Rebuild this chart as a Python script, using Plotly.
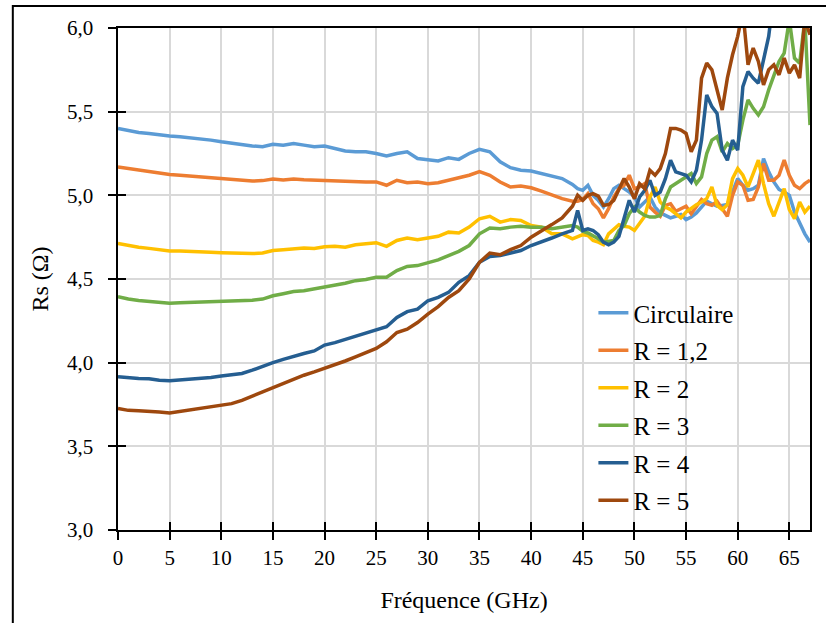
import plotly.graph_objects as go

freq = list(range(0, 45)) + [44.5 + 0.5 * i for i in range(46)]

circulaire = [5.40, 5.385, 5.375, 5.37, 5.36, 5.355, 5.35, 5.345, 5.34, 5.33,
              5.32, 5.31, 5.305, 5.295, 5.29, 5.305, 5.30, 5.31, 5.30, 5.29,
              5.295, 5.28, 5.265, 5.26, 5.26, 5.25, 5.235, 5.25, 5.26, 5.22,
              5.215, 5.205, 5.225, 5.215, 5.25, 5.275, 5.26, 5.20, 5.165, 5.15,
              5.145, 5.13, 5.12, 5.10, 5.065,
              5.04, 5.03, 5.06, 5.00, 4.97, 4.93, 4.98, 5.04, 5.06, 5.04,
              5.02, 4.99, 4.93, 4.96, 4.99, 4.93, 4.895, 4.88, 4.865, 4.875,
              4.885, 4.855, 4.87, 4.895, 4.93, 4.965, 4.95, 4.935, 4.94, 4.945,
              5.02, 5.10, 5.06, 5.03, 5.04, 5.06, 5.22, 5.14, 5.08, 5.035,
              5.02, 5.00, 4.90, 4.83, 4.77, 4.72]

r_1_2 = [5.17, 5.16, 5.15, 5.145, 5.13, 5.125, 5.12, 5.115, 5.11, 5.105,
         5.10, 5.095, 5.09, 5.085, 5.088, 5.097, 5.092, 5.098, 5.093, 5.09,
         5.09, 5.085, 5.083, 5.078, 5.08, 5.08, 5.06, 5.09, 5.075, 5.08,
         5.07, 5.075, 5.09, 5.10, 5.12, 5.142, 5.12, 5.08, 5.05, 5.055,
         5.045, 5.025, 5.00, 4.98, 4.965,
         4.965, 4.975, 5.01, 4.95, 4.92, 4.865, 4.92, 4.99, 5.04, 5.06,
         5.12, 5.04, 5.05, 5.07, 4.93, 4.90, 4.875, 4.94, 4.95, 4.905,
         4.92, 4.935, 4.89, 4.93, 4.975, 4.95, 4.94, 4.964, 4.92, 4.875,
         5.00, 5.08, 5.06, 4.97, 4.975, 5.05, 5.19, 5.09, 5.09, 5.12,
         5.21, 5.12, 5.06, 5.04, 5.07, 5.09]

r_2 = [4.713, 4.70, 4.69, 4.683, 4.675, 4.667, 4.668, 4.667, 4.665, 4.66,
       4.657, 4.655, 4.65, 4.652, 4.655, 4.67, 4.675, 4.682, 4.685, 4.683,
       4.693, 4.695, 4.69, 4.705, 4.71, 4.717, 4.695, 4.73, 4.745, 4.735,
       4.745, 4.755, 4.78, 4.775, 4.81, 4.86, 4.875, 4.84, 4.855, 4.85,
       4.82, 4.81, 4.77, 4.77, 4.74,
       4.75, 4.765, 4.76, 4.73, 4.72, 4.705, 4.77, 4.80, 4.825, 4.815,
       4.81, 4.79, 4.83, 4.875, 4.99, 5.05, 4.96, 4.93, 4.915, 4.89,
       4.865, 4.90, 4.925, 4.944, 4.96, 4.98, 5.05, 4.94, 4.915, 4.944,
       5.10, 5.16, 5.12, 5.05, 5.13, 5.21, 5.07, 4.95, 4.875, 4.96,
       5.04, 4.915, 4.86, 4.96, 4.90, 4.935]

r_3 = [4.394, 4.38, 4.372, 4.367, 4.36, 4.355, 4.358, 4.36, 4.358, 4.362,
       4.365, 4.368, 4.37, 4.373, 4.38, 4.40, 4.412, 4.425, 4.43, 4.44,
       4.455, 4.465, 4.475, 4.49, 4.497, 4.51, 4.51, 4.55, 4.575, 4.58,
       4.595, 4.614, 4.64, 4.665, 4.70, 4.77, 4.805, 4.80, 4.81, 4.815,
       4.81, 4.81, 4.80, 4.81, 4.82,
       4.81, 4.785, 4.775, 4.76, 4.74, 4.72, 4.725, 4.73, 4.79, 4.82,
       4.89, 4.93, 4.90, 4.88, 4.87, 4.87, 4.88, 4.98, 5.05, 5.07,
       5.09, 5.11, 5.13, 5.07, 5.11, 5.25, 5.33, 5.35, 5.26, 5.31,
       5.28, 5.30, 5.45, 5.57, 5.52, 5.48, 5.53, 5.63, 5.72, 5.80,
       5.85, 6.05, 5.82, 5.79, 6.05, 5.42]

r_4 = [3.916, 3.91, 3.906, 3.904, 3.895, 3.892, 3.896, 3.90, 3.905, 3.912,
       3.92, 3.925, 3.935, 3.955, 3.98, 4.00, 4.02, 4.04, 4.055, 4.07,
       4.105, 4.12, 4.14, 4.16, 4.175, 4.195, 4.215, 4.27, 4.305, 4.32,
       4.37, 4.39, 4.42, 4.48, 4.52, 4.60, 4.635, 4.64, 4.655, 4.67,
       4.70, 4.72, 4.745, 4.77, 4.79,
       4.91, 4.79, 4.80, 4.79, 4.765, 4.72, 4.705, 4.72, 4.755, 4.86,
       4.97, 4.90, 4.99, 5.03, 5.09, 5.00, 5.02, 5.10, 5.21, 5.14,
       5.13, 5.12, 5.08, 5.15, 5.33, 5.60, 5.53, 5.49, 5.27, 5.21,
       5.33, 5.27, 5.65, 5.74, 5.70, 5.67, 5.81, 5.95, 6.2, 6.3,
       6.3, 6.3, 6.3, 6.3, 6.3, 6.3]

r_5 = [3.727, 3.715, 3.712, 3.711, 3.705, 3.70, 3.71, 3.715, 3.725, 3.735,
       3.745, 3.755, 3.775, 3.80, 3.825, 3.85, 3.875, 3.905, 3.925, 3.945,
       3.965, 3.985, 4.01, 4.035, 4.06, 4.085, 4.125, 4.18, 4.20, 4.24,
       4.29, 4.335, 4.39, 4.43, 4.50, 4.60, 4.655, 4.645, 4.675, 4.70,
       4.75, 4.785, 4.825, 4.865, 4.935,
       5.00, 4.97, 5.00, 5.01, 4.995, 4.94, 4.945, 4.97, 5.035, 5.10,
       5.05, 4.98, 5.07, 5.04, 5.15, 5.12, 5.16, 5.25, 5.40, 5.40,
       5.39, 5.37, 5.26, 5.33, 5.70, 5.79, 5.75, 5.62, 5.51, 5.70,
       5.84, 5.95, 6.1, 5.78, 5.88, 5.80, 5.66, 5.75, 5.78, 5.72,
       5.82, 5.73, 5.78, 5.70, 6.05, 5.96]

names = ["Circulaire", "R = 1,2", "R = 2", "R = 3", "R = 4", "R = 5"]
colors = ["#5B9BD5", "#ED7D31", "#FFC000", "#70AD47", "#255E91", "#9E480E"]
series = [circulaire, r_1_2, r_2, r_3, r_4, r_5]

FONT = "Liberation Serif"

fig = go.Figure()
for name, col, vals in zip(names, colors, series):
    fig.add_trace(go.Scatter(x=freq, y=vals, mode="lines", name=name,
                             legendgroup=name,
                             line=dict(color=col, width=3.5)))

# dummy trace for overlay axes (inner tick marks)
fig.add_trace(go.Scatter(x=[None], y=[None], xaxis="x2", yaxis="y2",
                         showlegend=False, hoverinfo="skip"))

axis_common = dict(showline=True, linecolor="black", linewidth=2,
                   tickcolor="black", tickwidth=2, ticklen=8,
                   gridcolor="#D9D9D9", gridwidth=2, zeroline=False,
                   tickfont=dict(family=FONT, size=21, color="black"))

fig.update_layout(
    width=826, height=623,
    margin=dict(l=118, r=16, t=28, b=93),
    paper_bgcolor="white", plot_bgcolor="white",
    separators=", ",
    font=dict(family=FONT, size=21, color="black"),
    xaxis=dict(range=[0, 67], tickvals=list(range(0, 70, 5)), ticks="outside",
               mirror=True,
               title=dict(text="Fréquence (GHz)", font=dict(family=FONT, size=24), standoff=22),
               **axis_common),
    yaxis=dict(range=[3, 6], dtick=0.5, tickformat=".1f", ticks="outside",
               mirror=True, ticksuffix="\u2007",
               title=dict(text="Rs (Ω)", font=dict(family=FONT, size=24), standoff=12),
               **axis_common),
    xaxis2=dict(overlaying="x", anchor="y2", range=[0, 67], tickvals=list(range(0, 70, 5)),
                ticks="inside", ticklen=8, tickwidth=2, tickcolor="black",
                showticklabels=False, showgrid=False, zeroline=False, showline=False),
    yaxis2=dict(overlaying="y", anchor="x2", range=[3, 6], dtick=0.5,
                ticks="inside", ticklen=8, tickwidth=2, tickcolor="black",
                showticklabels=False, showgrid=False, zeroline=False, showline=False),
    legend=dict(x=0.687, y=0.478, xanchor="left", yanchor="top",
                bgcolor="rgba(0,0,0,0)", borderwidth=0,
                font=dict(family=FONT, size=25, color="black"),
                tracegroupgap=2),
    shapes=[dict(type="rect", xref="paper", yref="paper",
                 x0=-0.152, x1=1.2, y0=-0.3, y1=1.044,
                 line=dict(color="black", width=2), fillcolor="rgba(0,0,0,0)",
                 layer="above")],
    showlegend=True,
)

fig.write_html("out.html", config={"displayModeBar": False},
               post_script="document.body.style.margin='0';document.body.style.overflow='hidden';")
